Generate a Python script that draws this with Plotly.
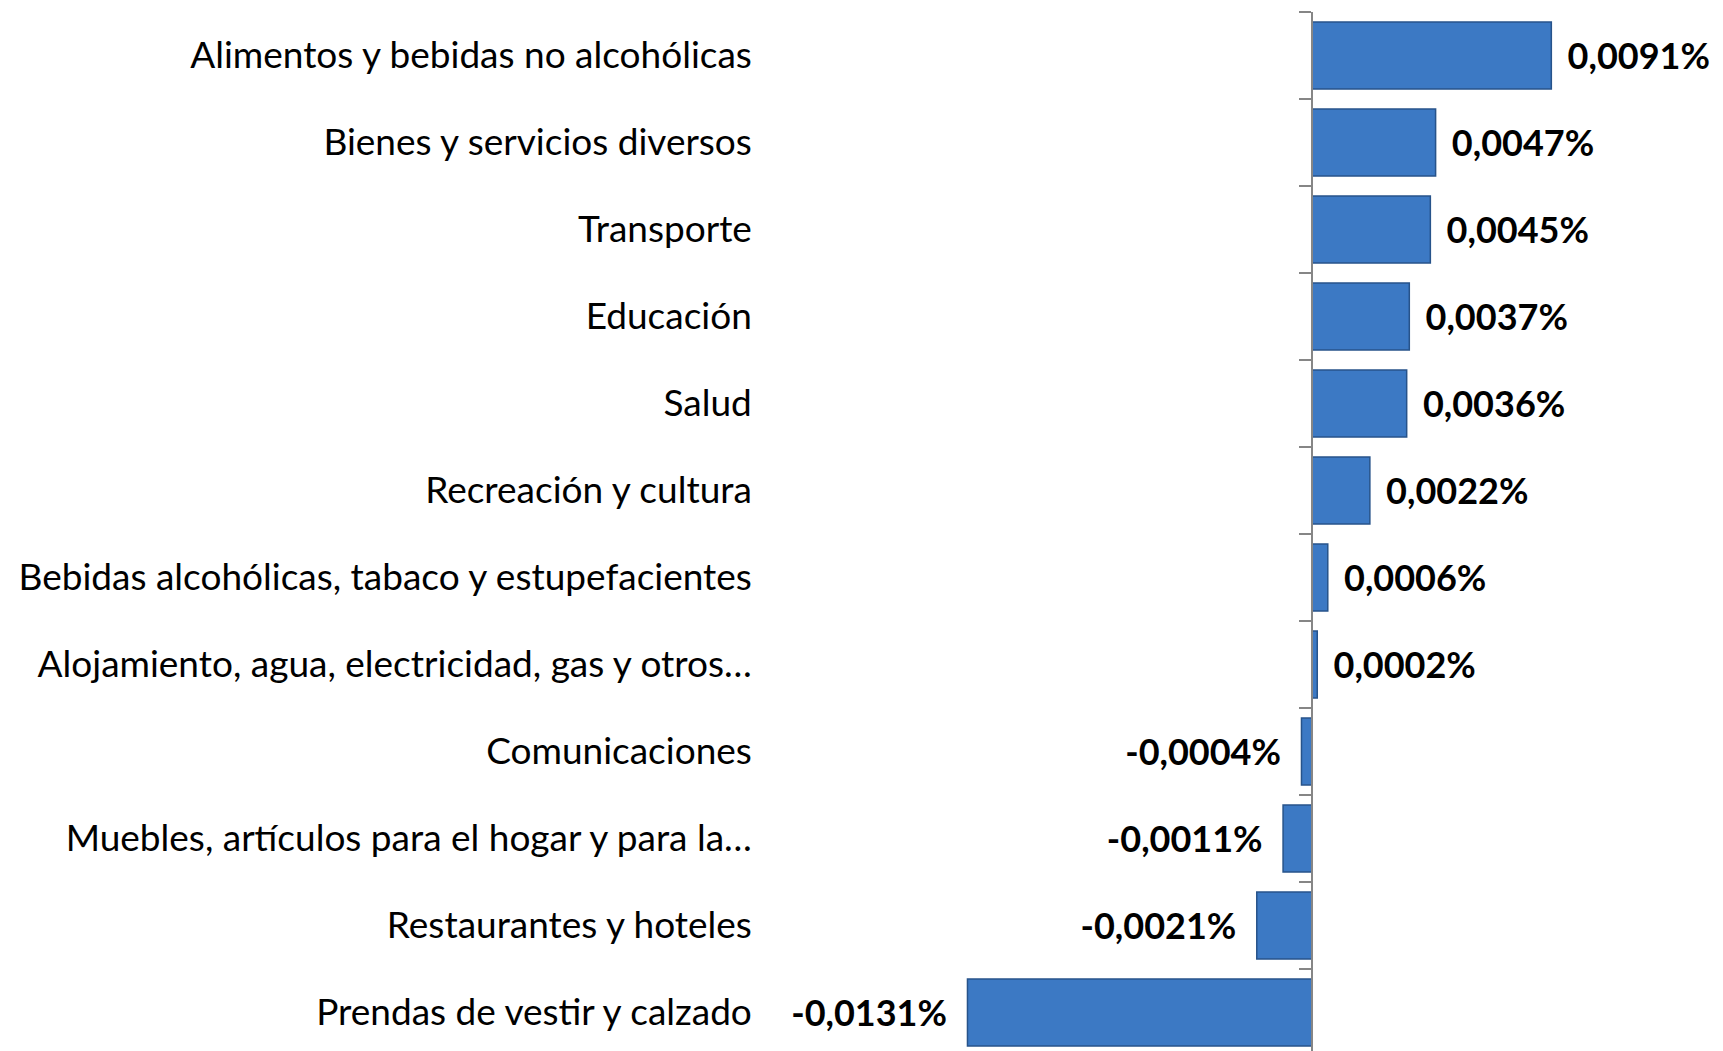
import plotly.graph_objects as go

categories = [
    "Alimentos y bebidas no alcohólicas",
    "Bienes y servicios diversos",
    "Transporte",
    "Educación",
    "Salud",
    "Recreación y cultura",
    "Bebidas alcohólicas, tabaco y estupefacientes",
    "Alojamiento, agua, electricidad, gas y otros…",
    "Comunicaciones",
    "Muebles, artículos para el hogar y para la…",
    "Restaurantes y hoteles",
    "Prendas de vestir y calzado",
]
values = [0.0091, 0.0047, 0.0045, 0.0037, 0.0036, 0.0022,
          0.0006, 0.0002, -0.0004, -0.0011, -0.0021, -0.0131]

labels = [f"{v:.4f}%".replace(".", ",") for v in values]
NB = "\u00a0"
texts = [(NB + "\u2009" + t) if v >= 0 else (t + NB * 2) for t, v in zip(labels, values)]

# page body has an 8px default margin: size the figure to fit the window
W, H = 1715, 1043
axis_px = 1304
px_per_unit = 26300.0

fig = go.Figure()
fig.add_trace(go.Bar(
    y=categories,
    x=values,
    orientation="h",
    width=0.77,
    marker=dict(color="#3C79C4", line=dict(color="#27538A", width=1.5)),
    text=texts,
    textposition="outside",
    textangle=0,
    constraintext="none",
    cliponaxis=False,
    textfont=dict(family="Lato", size=36, color="#000000", weight="bold"),
    hoverinfo="skip",
))

fig.update_layout(
    width=W, height=H, autosize=False,
    margin=dict(l=0, r=0, t=4, b=0),
    paper_bgcolor="white", plot_bgcolor="white",
    showlegend=False,
    xaxis=dict(
        domain=[0, 1],
        range=[-axis_px / px_per_unit, (W - axis_px) / px_per_unit],
        showgrid=False, zeroline=False, showticklabels=False, showline=False,
        ticks="",
    ),
    yaxis=dict(
        type="category",
        categoryorder="array", categoryarray=categories,
        range=[11.443, -0.5],
        anchor="free", position=axis_px / W,
        showline=True, linecolor="#868686", linewidth=1.5,
        ticks="outside", ticklen=12, tickcolor="#868686", tickwidth=1.5,
        tickson="boundaries",
        ticklabelstandoff=552,
        showgrid=False, zeroline=False,
        tickfont=dict(family="Lato", size=37, color="#000000"),
    ),
)

fig.write_html("out.html")
